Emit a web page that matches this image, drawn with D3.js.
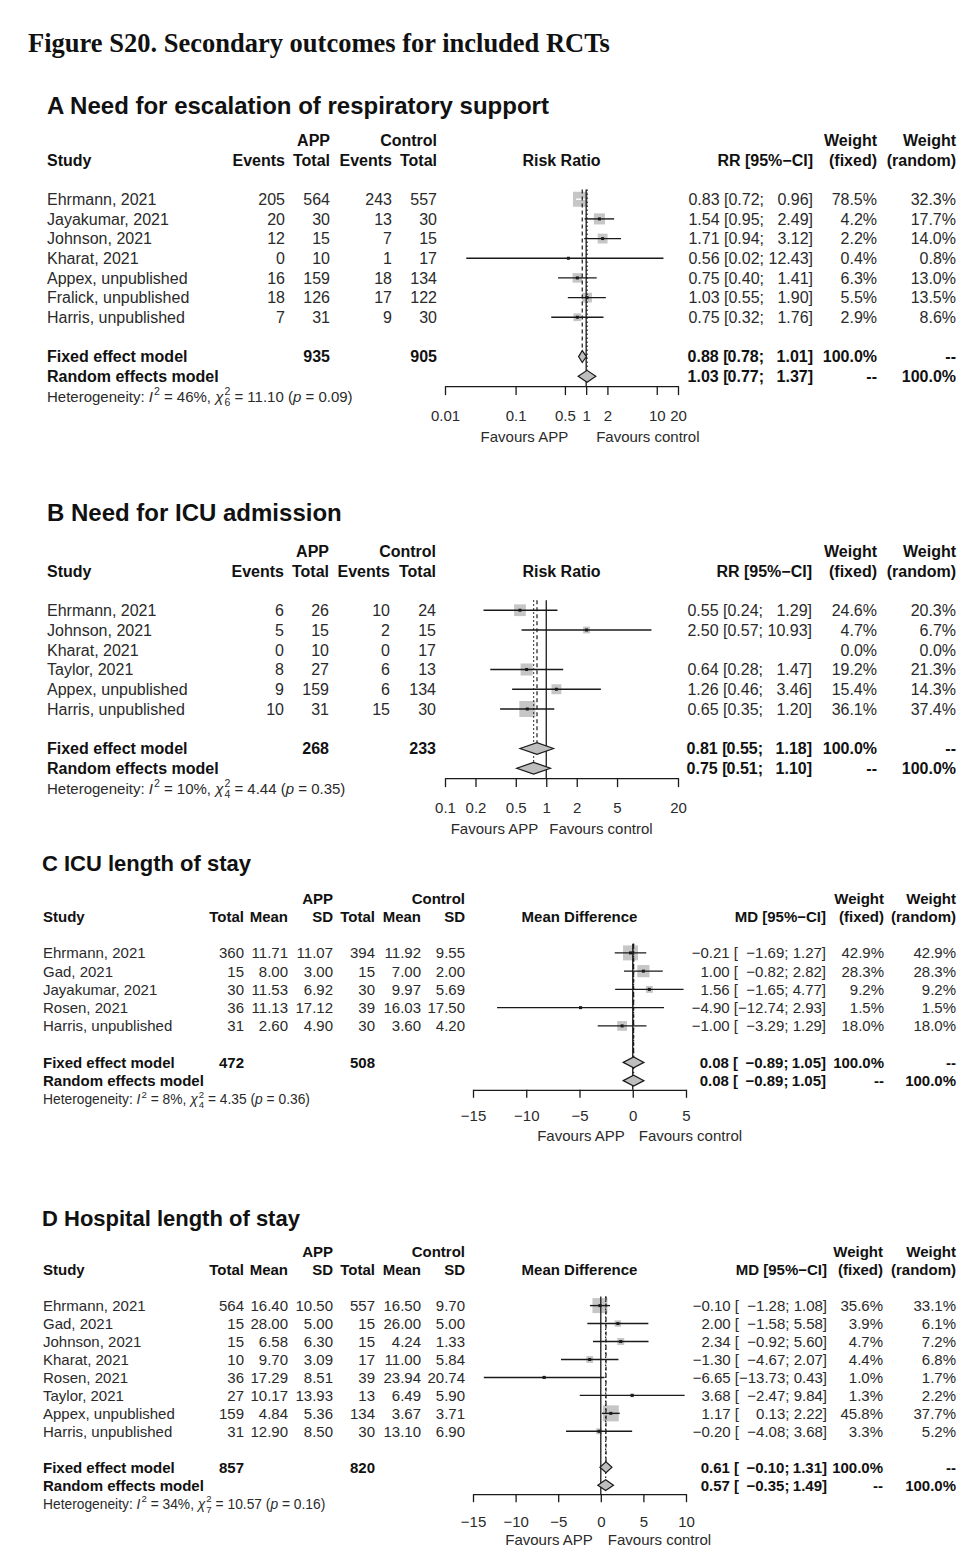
<!DOCTYPE html>
<html><head><meta charset="utf-8">
<script src="https://cdn.jsdelivr.net/npm/d3@7"></script>
<style>
body{margin:0;background:#fff;}
svg text{font-family:"Liberation Sans",Arial,Helvetica,sans-serif;white-space:pre;}
</style>
</head><body>
<svg id="chart" width="974" height="1564"></svg>
<script>
// ================= DATA =================
const figureTitle = "Figure S20. Secondary outcomes for included RCTs";

// ---- Panel A: Need for escalation of respiratory support (Risk Ratio) ----
const titleA = "A Need for escalation of respiratory support";
const studiesA = ["Ehrmann, 2021","Jayakumar, 2021","Johnson, 2021","Kharat, 2021","Appex, unpublished","Fralick, unpublished","Harris, unpublished"];
const appEventsA = [205,20,12,0,16,18,7];
const appTotalA  = [564,30,15,10,159,126,31];
const ctlEventsA = [243,13,7,1,18,17,9];
const ctlTotalA  = [557,30,15,17,134,122,30];
const estA  = [0.83,1.54,1.71,0.56,0.75,1.03,0.75];
const lowA  = [0.72,0.95,0.94,0.02,0.40,0.55,0.32];
const highA = [0.96,2.49,3.12,12.43,1.41,1.90,1.76];
const wFixedA  = [78.5,4.2,2.2,0.4,6.3,5.5,2.9];
const wRandomA = [32.3,17.7,14.0,0.8,13.0,13.5,8.6];
const fixedA  = [0.88,0.78,1.01];
const randomA = [1.03,0.77,1.37];
const totalsA = [935,905];
const hetA = [46,6,11.10,0.09];       // I2 %, df, chi2, p
const ticksA = [0.01,0.1,0.5,1,2,10,20];
const tickLabelsA = ["0.01","0.1","0.5","1","2","10","20"];

// ---- Panel B: Need for ICU admission (Risk Ratio) ----
const titleB = "B Need for ICU admission";
const studiesB = ["Ehrmann, 2021","Johnson, 2021","Kharat, 2021","Taylor, 2021","Appex, unpublished","Harris, unpublished"];
const appEventsB = [6,5,0,8,9,10];
const appTotalB  = [26,15,10,27,159,31];
const ctlEventsB = [10,2,0,6,6,15];
const ctlTotalB  = [24,15,17,13,134,30];
const estB  = [0.55,2.50,null,0.64,1.26,0.65];
const lowB  = [0.24,0.57,null,0.28,0.46,0.35];
const highB = [1.29,10.93,null,1.47,3.46,1.20];
const wFixedB  = [24.6,4.7,0.0,19.2,15.4,36.1];
const wRandomB = [20.3,6.7,0.0,21.3,14.3,37.4];
const fixedB  = [0.81,0.55,1.18];
const randomB = [0.75,0.51,1.10];
const totalsB = [268,233];
const hetB = [10,4,4.44,0.35];
const ticksB = [0.1,0.2,0.5,1,2,5,20];
const tickLabelsB = ["0.1","0.2","0.5","1","2","5","20"];

// ---- Panel C: ICU length of stay (Mean Difference) ----
const titleC = "C ICU length of stay";
const studiesC = ["Ehrmann, 2021","Gad, 2021","Jayakumar, 2021","Rosen, 2021","Harris, unpublished"];
const appTotalC = [360,15,30,36,31];
const appMeanC  = [11.71,8.00,11.53,11.13,2.60];
const appSdC    = [11.07,3.00,6.92,17.12,4.90];
const ctlTotalC = [394,15,30,39,30];
const ctlMeanC  = [11.92,7.00,9.97,16.03,3.60];
const ctlSdC    = [9.55,2.00,5.69,17.50,4.20];
const estC  = [-0.21,1.00,1.56,-4.90,-1.00];
const lowC  = [-1.69,-0.82,-1.65,-12.74,-3.29];
const highC = [1.27,2.82,4.77,2.93,1.29];
const wFixedC  = [42.9,28.3,9.2,1.5,18.0];
const wRandomC = [42.9,28.3,9.2,1.5,18.0];
const fixedC  = [0.08,-0.89,1.05];
const randomC = [0.08,-0.89,1.05];
const totalsC = [472,508];
const hetC = [8,4,4.35,0.36];
const ticksC = [-15,-10,-5,0,5];
const tickLabelsC = ["\u221215","\u221210","\u22125","0","5"];

// ---- Panel D: Hospital length of stay (Mean Difference) ----
const titleD = "D Hospital length of stay";
const studiesD = ["Ehrmann, 2021","Gad, 2021","Johnson, 2021","Kharat, 2021","Rosen, 2021","Taylor, 2021","Appex, unpublished","Harris, unpublished"];
const appTotalD = [564,15,15,10,36,27,159,31];
const appMeanD  = [16.40,28.00,6.58,9.70,17.29,10.17,4.84,12.90];
const appSdD    = [10.50,5.00,6.30,3.09,8.51,13.93,5.36,8.50];
const ctlTotalD = [557,15,15,17,39,13,134,30];
const ctlMeanD  = [16.50,26.00,4.24,11.00,23.94,6.49,3.67,13.10];
const ctlSdD    = [9.70,5.00,1.33,5.84,20.74,5.90,3.71,6.90];
const estD  = [-0.10,2.00,2.34,-1.30,-6.65,3.68,1.17,-0.20];
const lowD  = [-1.28,-1.58,-0.92,-4.67,-13.73,-2.47,0.13,-4.08];
const highD = [1.08,5.58,5.60,2.07,0.43,9.84,2.22,3.68];
const wFixedD  = [35.6,3.9,4.7,4.4,1.0,1.3,45.8,3.3];
const wRandomD = [33.1,6.1,7.2,6.8,1.7,2.2,37.7,5.2];
const fixedD  = [0.61,-0.10,1.31];
const randomD = [0.57,-0.35,1.49];
const totalsD = [857,820];
const hetD = [34,7,10.57,0.16];
const ticksD = [-15,-10,-5,0,5,10];
const tickLabelsD = ["\u221215","\u221210","\u22125","0","5","10"];

// ================= RENDER =================
const svg = d3.select("#chart");
svg.append("rect").attr("width",974).attr("height",1564).attr("fill","#fff");
const f2 = d3.format(".2f");
const f1 = d3.format(".1f");
const INK = "#2a2a2a", BOLDINK = "#111";

const meas = svg.append("text").attr("visibility","hidden");
function textW(str, size, bold){
  meas.attr("font-size",size).attr("font-weight",bold?"bold":"normal").text(str);
  return meas.node().getComputedTextLength();
}

svg.append("text").attr("x",28).attr("y",52)
  .style("font-family",'"Liberation Serif","Times New Roman",serif')
  .attr("font-size",26.5).attr("font-weight","bold").attr("fill","#111").text(figureTitle);

function drawPanel(P, L){
  const g = svg.append("g");
  const n = P.studies.length;
  const base = i => L.row1 + i*L.rowH;
  const mid = i => base(i) - L.font*0.36;
  const fixRow = n+1, ranRow = n+2, hetRow = n+3;
  const hy1 = base(-3), hy2 = base(-2);
  const T = (x,y,str,o={}) => g.append("text").attr("x",x).attr("y",y)
      .attr("font-size",o.size||L.font).attr("font-weight",o.bold?"bold":null)
      .attr("font-style",o.italic?"italic":null)
      .attr("text-anchor",o.anchor||"start").attr("fill",o.fill||(o.bold?BOLDINK:INK)).text(str);

  // title
  T(L.titleX, L.titleY, P.title, {size:L.titleSize, bold:true});

  // left table
  T(L.studyX, hy2, "Study", {bold:true});
  P.studies.forEach((s,i)=>T(L.studyX, base(i), s));
  T(L.studyX, base(fixRow), "Fixed effect model", {bold:true});
  T(L.studyX, base(ranRow), "Random effects model", {bold:true});
  P.cols.forEach((c,j)=>{
    T(L.colX[j], hy2, c.head, {bold:true, anchor:"end"});
    c.values.forEach((v,i)=>T(L.colX[j], base(i), v, {anchor:"end"}));
    if (c.total!=null) T(L.colX[j], base(fixRow), String(c.total), {bold:true, anchor:"end"});
  });
  T(L.colX[L.appCol], hy1, "APP", {bold:true, anchor:"end"});
  T(L.colX[L.ctlCol], hy1, "Control", {bold:true, anchor:"end"});

  // heterogeneity line (rich text)
  {
    const hs = L.hetSize, y = base(hetRow);
    let cx = L.studyX;
    const put = (str, o={}) => {
      const t = g.append("text").attr("x",cx).attr("y",y+(o.dy||0)).attr("font-size",o.size||hs)
        .attr("font-style",o.italic?"italic":null).attr("fill",INK).text(str);
      return t.node().getComputedTextLength();
    };
    cx += put("Heterogeneity: ");
    cx += put("I", {italic:true}) + 1;
    cx += put("2", {size:hs*0.7, dy:-hs*0.45});
    cx += put(" = " + P.het[0] + "%, ");
    cx += put("\u03C7", {italic:true}) + 1;
    const w1 = put("2", {size:hs*0.7, dy:-hs*0.45});
    const w2 = put(String(P.het[1]), {size:hs*0.7, dy:hs*0.3});
    cx += Math.max(w1,w2);
    cx += put(" = " + f2(P.het[2]) + " (");
    cx += put("p", {italic:true});
    cx += put(" = " + f2(P.het[3]) + ")");
  }

  // plot
  const x = (P.log ? d3.scaleLog() : d3.scaleLinear()).domain(P.domain).range([L.x0, L.x1]);
  const axisY = mid(ranRow) + L.rowH*0.5;
  const top = mid(0) - L.rowH*0.5;
  const sq = d3.scaleSqrt().domain([0, d3.max(P.wR)]).range([0, L.sqMax]);
  const dH = L.rowH*0.6;

  T((L.x0+L.x1)/2, hy2, P.plotHead, {bold:true, anchor:"middle"});

  // study squares + CIs
  P.est.forEach((e,i)=>{
    if (e==null) return;
    const s = sq(P.wR[i]), cy = mid(i);
    const xe = x(e), xl = x(P.lo[i]), xh = x(P.hi[i]);
    g.append("rect").attr("x",xe-s/2).attr("y",cy-s/2).attr("width",s).attr("height",s).attr("fill","#c6c6c6");
    const inside = xl >= xe-s/2 && xh <= xe+s/2;
    g.append("line").attr("x1",xl).attr("x2",xh).attr("y1",cy).attr("y2",cy)
      .attr("stroke", inside ? "#fff" : "#1a1a1a").attr("stroke-width",1.4);
    if (!inside) g.append("rect").attr("x",xe-1.5).attr("y",cy-1.5).attr("width",3).attr("height",3).attr("fill","#1a1a1a");
  });

  // reference lines
  const xNull = x(P.nullVal);
  g.append("line").attr("x1",xNull).attr("x2",xNull).attr("y1",top).attr("y2",axisY)
    .attr("stroke","#1a1a1a").attr("stroke-width",1.3);
  g.append("line").attr("x1",x(P.fixed[0])).attr("x2",x(P.fixed[0])).attr("y1",top).attr("y2",mid(fixRow)-dH/2)
    .attr("stroke","#1a1a1a").attr("stroke-width",1.2).attr("stroke-dasharray","4,3");
  g.append("line").attr("x1",x(P.random[0])).attr("x2",x(P.random[0])).attr("y1",top).attr("y2",mid(ranRow)-dH/2)
    .attr("stroke","#1a1a1a").attr("stroke-width",1.2).attr("stroke-dasharray","1.5,2.5");

  // diamonds
  [[P.fixed, fixRow],[P.random, ranRow]].forEach(([m,r])=>{
    const cy = mid(r);
    const pts = [[x(m[1]),cy],[x(m[0]),cy-dH/2],[x(m[2]),cy],[x(m[0]),cy+dH/2]];
    g.append("path").attr("d", d3.line()(pts)+"Z").attr("fill","#bebebe").attr("stroke","#1a1a1a").attr("stroke-width",1.2);
  });

  // axis
  const ax = d3.axisBottom(x).tickValues(P.ticks).tickFormat(d=>P.tickLabels[P.ticks.indexOf(d)])
    .tickSize(L.tick).tickSizeOuter(0);
  const axg = g.append("g").attr("transform",`translate(0,${axisY})`).call(ax)
    .attr("font-family",null).attr("font-size",null);
  axg.select(".domain").attr("stroke","#1a1a1a").attr("stroke-width",1.3);
  axg.selectAll(".tick line").attr("stroke","#1a1a1a").attr("stroke-width",1.3);
  axg.selectAll(".tick text").attr("font-size",L.tickFont).attr("fill",INK).attr("y",L.tickLabOff).attr("dy",null);
  T(xNull - L.gapL, axisY + L.favOff, "Favours APP", {anchor:"end", size:L.tickFont});
  T(xNull + L.gapR, axisY + L.favOff, "Favours control", {anchor:"start", size:L.tickFont});

  // right table
  T(L.ciX, hy2, P.ciHead, {bold:true, anchor:"end"});
  T(L.wFX, hy1, "Weight", {bold:true, anchor:"end"});
  T(L.wRX, hy1, "Weight", {bold:true, anchor:"end"});
  T(L.wFX, hy2, "(fixed)", {bold:true, anchor:"end"});
  T(L.wRX, hy2, "(random)", {bold:true, anchor:"end"});

  const rows = [];
  P.est.forEach((e,i)=>rows.push({r:i, e, lo:P.lo[i], hi:P.hi[i], bold:false}));
  rows.push({r:fixRow, e:P.fixed[0], lo:P.fixed[1], hi:P.fixed[2], bold:true});
  rows.push({r:ranRow, e:P.random[0], lo:P.random[1], hi:P.random[2], bold:true});
  const valid = rows.filter(d=>d.e!=null);
  const sp = textW(" ", L.font, false);
  const maxW3 = d3.max(valid, d=>textW(f2(d.hi)+"]", L.font, false));
  const x2 = L.ciX - maxW3 - sp;
  const maxW2 = d3.max(valid, d=>textW(f2(d.lo)+";", L.font, false));
  const x1 = x2 - maxW2;
  valid.forEach(d=>{
    const y = base(d.r);
    T(x1, y, f2(d.e)+" [", {anchor:"end", bold:d.bold});
    T(x2, y, f2(d.lo)+";", {anchor:"end", bold:d.bold});
    T(L.ciX, y, f2(d.hi)+"]", {anchor:"end", bold:d.bold});
  });
  P.wF.forEach((w,i)=>T(L.wFX, base(i), f1(w)+"%", {anchor:"end"}));
  P.wR.forEach((w,i)=>T(L.wRX, base(i), f1(w)+"%", {anchor:"end"}));
  T(L.wFX, base(fixRow), "100.0%", {anchor:"end", bold:true});
  T(L.wRX, base(fixRow), "--", {anchor:"end", bold:true});
  T(L.wFX, base(ranRow), "--", {anchor:"end", bold:true});
  T(L.wRX, base(ranRow), "100.0%", {anchor:"end", bold:true});
}

const strs = a => a.map(String);
const fm = a => a.map(f2);

drawPanel({
  title:titleA, studies:studiesA, log:true, domain:[0.01,20], nullVal:1,
  cols:[{head:"Events",values:strs(appEventsA)},{head:"Total",values:strs(appTotalA),total:totalsA[0]},
        {head:"Events",values:strs(ctlEventsA)},{head:"Total",values:strs(ctlTotalA),total:totalsA[1]}],
  est:estA, lo:lowA, hi:highA, wF:wFixedA, wR:wRandomA, fixed:fixedA, random:randomA, het:hetA,
  ticks:ticksA, tickLabels:tickLabelsA, plotHead:"Risk Ratio", ciHead:"RR [95%\u2212CI]"
},{titleX:47,titleY:114,titleSize:24,font:16,row1:205,rowH:19.67,studyX:47,colX:[285,330,392,437],appCol:1,ctlCol:3,
  x0:445,x1:678,ciX:813,wFX:877,wRX:956,sqMax:15,hetSize:15,tickFont:15,tick:9,tickLabOff:35,favOff:56,gapL:18,gapR:10});

drawPanel({
  title:titleB, studies:studiesB, log:true, domain:[0.1,20], nullVal:1,
  cols:[{head:"Events",values:strs(appEventsB)},{head:"Total",values:strs(appTotalB),total:totalsB[0]},
        {head:"Events",values:strs(ctlEventsB)},{head:"Total",values:strs(ctlTotalB),total:totalsB[1]}],
  est:estB, lo:lowB, hi:highB, wF:wFixedB, wR:wRandomB, fixed:fixedB, random:randomB, het:hetB,
  ticks:ticksB, tickLabels:tickLabelsB, plotHead:"Risk Ratio", ciHead:"RR [95%\u2212CI]"
},{titleX:47,titleY:521,titleSize:24,font:16,row1:616,rowH:19.75,studyX:47,colX:[284,329,390,436],appCol:1,ctlCol:3,
  x0:445,x1:678,ciX:812,wFX:877,wRX:956,sqMax:16,hetSize:15,tickFont:15,tick:9,tickLabOff:35,favOff:56,gapL:8,gapR:3});

drawPanel({
  title:titleC, studies:studiesC, log:false, domain:[-15,5], nullVal:0,
  cols:[{head:"Total",values:strs(appTotalC),total:totalsC[0]},{head:"Mean",values:fm(appMeanC)},{head:"SD",values:fm(appSdC)},
        {head:"Total",values:strs(ctlTotalC),total:totalsC[1]},{head:"Mean",values:fm(ctlMeanC)},{head:"SD",values:fm(ctlSdC)}],
  est:estC, lo:lowC, hi:highC, wF:wFixedC, wR:wRandomC, fixed:fixedC, random:randomC, het:hetC,
  ticks:ticksC, tickLabels:tickLabelsC, plotHead:"Mean Difference", ciHead:"MD [95%\u2212CI]"
},{titleX:42,titleY:871,titleSize:22,font:15,row1:958.3,rowH:18.25,studyX:43,colX:[244,288,333,375,421,465],appCol:2,ctlCol:5,
  x0:473,x1:686,ciX:826,wFX:884,wRX:956,sqMax:15,hetSize:13.8,tickFont:15,tick:8,tickLabOff:31,favOff:51,gapL:8,gapR:6});

drawPanel({
  title:titleD, studies:studiesD, log:false, domain:[-15,10], nullVal:0,
  cols:[{head:"Total",values:strs(appTotalD),total:totalsD[0]},{head:"Mean",values:fm(appMeanD)},{head:"SD",values:fm(appSdD)},
        {head:"Total",values:strs(ctlTotalD),total:totalsD[1]},{head:"Mean",values:fm(ctlMeanD)},{head:"SD",values:fm(ctlSdD)}],
  est:estD, lo:lowD, hi:highD, wF:wFixedD, wR:wRandomD, fixed:fixedD, random:randomD, het:hetD,
  ticks:ticksD, tickLabels:tickLabelsD, plotHead:"Mean Difference", ciHead:"MD [95%\u2212CI]"
},{titleX:42,titleY:1226,titleSize:22,font:15,row1:1311,rowH:17.96,studyX:43,colX:[244,288,333,375,421,465],appCol:2,ctlCol:5,
  x0:473,x1:686,ciX:827,wFX:883,wRX:956,sqMax:16,hetSize:13.8,tickFont:15,tick:8,tickLabOff:33,favOff:51,gapL:8,gapR:7});

meas.remove();
</script>
</body></html>
